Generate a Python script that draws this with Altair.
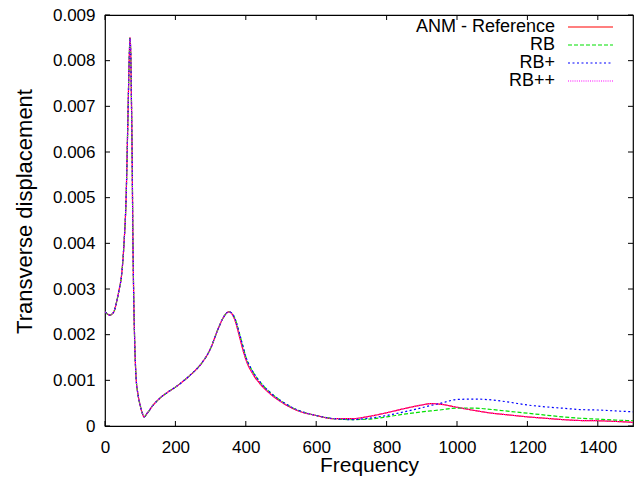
import altair as alt
import pandas as pd

freq = [0, 14, 25, 33, 40, 47, 54, 60, 65, 69, 71, 73, 75, 77, 79, 81, 84, 88, 94,
        100, 106, 111, 120, 135, 156, 180, 200, 225, 250, 275, 300, 320, 335, 345,
        353, 360, 370, 380, 390, 400, 420, 440, 470, 500, 550, 600, 650, 700, 750,
        800, 850, 900, 925, 950, 1000, 1050, 1100, 1150, 1200, 1250, 1300, 1350,
        1400, 1450, 1500]

anm = [0.00250, 0.00243, 0.00250, 0.00272, 0.00298, 0.00330, 0.00400, 0.00500,
       0.00670, 0.00810, 0.00850, 0.00820, 0.00720, 0.00600, 0.00430, 0.00310,
       0.00195, 0.00110, 0.00068, 0.00045, 0.00028, 0.00020, 0.00028, 0.00044,
       0.00061, 0.00075, 0.00085, 0.00100, 0.00117, 0.00138, 0.00170, 0.00210,
       0.00236, 0.00247, 0.00250, 0.00246, 0.00230, 0.00202, 0.00172, 0.00146,
       0.00114, 0.00093, 0.00070, 0.00053, 0.00033, 0.00023, 0.00016, 0.00016,
       0.00021, 0.00029, 0.00038, 0.00046, 0.00049, 0.00048, 0.00041, 0.00034,
       0.00028, 0.00024, 0.00020, 0.00017, 0.00014, 0.00012, 0.000115, 0.00010,
       0.00008]

rb = [0.00250, 0.00243, 0.00250, 0.00272, 0.00298, 0.00330, 0.00400, 0.00500,
      0.00670, 0.00810, 0.00850, 0.00820, 0.00720, 0.00600, 0.00430, 0.00310,
      0.00195, 0.00110, 0.00068, 0.00045, 0.00028, 0.00020, 0.00028, 0.00044,
      0.00061, 0.00075, 0.00085, 0.00100, 0.00117, 0.00138, 0.00170, 0.00210,
      0.00236, 0.00247, 0.00250, 0.00247, 0.00234, 0.00208, 0.00180, 0.00152,
      0.00119, 0.00097, 0.00073, 0.00055, 0.00034, 0.00023, 0.00016, 0.00014,
      0.00015, 0.00020, 0.00026, 0.00031, 0.00033, 0.00035, 0.00039, 0.00039,
      0.00036, 0.00032, 0.00028, 0.00024, 0.00020, 0.00017, 0.00015, 0.00013,
      0.000115]

rbp = [0.00250, 0.00243, 0.00250, 0.00272, 0.00298, 0.00330, 0.00400, 0.00500,
       0.00670, 0.00810, 0.00850, 0.00820, 0.00720, 0.00600, 0.00430, 0.00310,
       0.00195, 0.00110, 0.00068, 0.00045, 0.00028, 0.00020, 0.00028, 0.00044,
       0.00061, 0.00075, 0.00085, 0.00100, 0.00117, 0.00138, 0.00170, 0.00210,
       0.00236, 0.00247, 0.00250, 0.00247, 0.00234, 0.00208, 0.00180, 0.00152,
       0.00119, 0.00097, 0.00073, 0.00055, 0.00034, 0.00023, 0.00016, 0.00014,
       0.00017, 0.00023, 0.00031, 0.00040, 0.00045, 0.00049, 0.00058, 0.00059,
       0.00057, 0.00052, 0.00046, 0.00042, 0.00039, 0.00036, 0.00035, 0.00033,
       0.00031]

rbpp = list(anm)

series = ["ANM - Reference", "RB", "RB+", "RB++"]
colors = ["#ff0000", "#00e000", "#0000ff", "#ff00ff"]
dashes = [[1, 0], [4, 2], [2, 2.5], [1, 1.2]]
values = [anm, rb, rbp, rbpp]

x_ticks = [0, 200, 400, 600, 800, 1000, 1200, 1400]
y_ticks = [0, 0.001, 0.002, 0.003, 0.004, 0.005, 0.006, 0.007, 0.008, 0.009]

W, H = 528, 411
FONT = "Liberation Sans"
TICK = 5

xscale = alt.Scale(domain=[0, 1500], nice=False, zero=False)
yscale = alt.Scale(domain=[0, 0.009], nice=False)

layers = []
for i, (name, vals) in enumerate(zip(series, values)):
    df = pd.DataFrame({"Frequency": freq, "disp": vals})
    ln = alt.Chart(df).mark_line(
        color=colors[i], strokeDash=dashes[i], strokeWidth=1.2,
        interpolate="monotone", clip=True
    ).encode(
        x=alt.X("Frequency:Q", scale=xscale,
                axis=alt.Axis(values=x_ticks, title="Frequency", format="d",
                              titleY=45, titleBaseline="alphabetic")),
        y=alt.Y("disp:Q", scale=yscale,
                axis=alt.Axis(values=y_ticks, title="Transverse displacement",
                              format="~g", titleY=196)),
    )
    layers.append(ln)

# inward ticks
xt = pd.DataFrame({"t": x_ticks})
yt = pd.DataFrame({"t": y_ticks})
tick_bottom = alt.Chart(xt).mark_rule(color="black", strokeWidth=1).encode(
    x=alt.X("t:Q", scale=xscale), y=alt.value(H), y2=alt.value(H - TICK))
tick_top = alt.Chart(xt).mark_rule(color="black", strokeWidth=1).encode(
    x=alt.X("t:Q", scale=xscale), y=alt.value(0), y2=alt.value(TICK))
tick_left = alt.Chart(yt).mark_rule(color="black", strokeWidth=1).encode(
    y=alt.Y("t:Q", scale=yscale), x=alt.value(0), x2=alt.value(TICK))
tick_right = alt.Chart(yt).mark_rule(color="black", strokeWidth=1).encode(
    y=alt.Y("t:Q", scale=yscale), x=alt.value(W), x2=alt.value(W - TICK))
layers += [tick_bottom, tick_top, tick_left, tick_right]

# legend
leg_df = pd.DataFrame({"name": series})
for i, name in enumerate(series):
    row = leg_df.iloc[[i]]
    yy = 12 + 18 * i
    txt = alt.Chart(row).mark_text(
        align="right", baseline="middle", font=FONT, fontSize=18, color="black"
    ).encode(text="name:N", x=alt.value(450), y=alt.value(yy))
    rl = alt.Chart(row).mark_rule(
        color=colors[i], strokeDash=dashes[i], strokeWidth=1.2
    ).encode(x=alt.value(463), x2=alt.value(508), y=alt.value(yy))
    layers += [txt, rl]

chart = alt.layer(*layers).properties(
    width=W, height=H,
    autosize=alt.AutoSizeParams(type="none"),
    padding={"left": 97, "top": 7, "right": 3, "bottom": 50},
).configure_view(
    stroke="black", strokeWidth=1.2
).configure_axis(
    grid=False, domain=False, ticks=False, tickSize=0, labelFlush=False,
    labelFont=FONT, labelFontSize=17, labelColor="black",
    titleFont=FONT, titleFontSize=21, titleColor="black", titleFontWeight="normal",
).configure_axisX(
    labelPadding=13,
).configure_axisY(
    labelPadding=10, titlePadding=16, titleFontSize=22,
)

chart.save("out.html", embed_options={"renderer": "svg", "actions": False})
